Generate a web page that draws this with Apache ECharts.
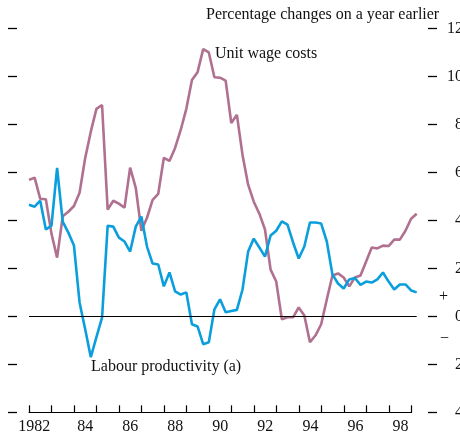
<!DOCTYPE html>
<html><head><meta charset="utf-8">
<script src="https://cdn.jsdelivr.net/npm/echarts@6/dist/echarts.min.js"></script>
<style>html,body{margin:0;padding:0;background:#fff}#c{width:460px;height:434px}</style>
</head><body><div id="c"></div>
<script>
// Quarterly observations, 1982 Q1 onwards
const quarters = [];
for (let y = 1982; y <= 1999; y++) for (let q = 1; q <= 4; q++) if (quarters.length < 70) quarters.push(y + ' Q' + q);

const years = ['1982','83','84','85','86','87','88','89','90','91','92','93','94','95','96','97','98'];

const unitWageCosts = [5.69,5.78,4.90,4.88,3.45,2.45,4.17,4.36,4.60,5.15,6.60,7.70,8.65,8.81,4.45,4.82,4.70,4.53,6.20,5.36,
  3.57,4.11,4.86,5.11,6.61,6.48,7.02,7.77,8.65,9.85,10.18,11.14,11.00,9.97,9.95,9.83,8.06,8.40,6.73,5.49,
  4.78,4.28,3.62,1.95,1.45,-0.12,-0.04,-0.04,0.37,0.04,-1.08,-0.79,-0.33,0.70,1.70,1.79,1.62,1.25,1.62,1.70,
  2.29,2.87,2.83,2.95,2.93,3.20,3.20,3.57,4.07,4.28];

const labourProductivity = [4.65,4.57,4.82,3.62,3.78,6.19,3.95,3.49,2.95,0.58,-0.54,-1.70,-0.87,-0.05,3.78,3.74,3.28,3.12,2.70,3.74,
  4.16,2.91,2.20,2.16,1.25,1.83,1.04,0.91,1.00,-0.33,-0.42,-1.16,-1.08,0.29,0.71,0.17,0.22,0.27,1.12,2.70,
  3.24,2.87,2.49,3.37,3.57,3.96,3.82,3.08,2.41,2.91,3.91,3.91,3.87,3.12,1.75,1.37,1.16,1.54,1.60,1.31,
  1.45,1.41,1.54,1.83,1.45,1.12,1.33,1.33,1.08,1.00];

const yMin = -4, yMax = 12, yStep = 2;

const FONT = '"Liberation Serif", "Times New Roman", serif';
const PINK = '#b0708f';
const BLUE = '#0a9fdc';

const chart = echarts.init(document.getElementById('c'), null, {renderer: 'canvas'});
chart.setOption({
  animation: false,
  backgroundColor: '#fff',
  grid: [
    {left: 29, right: 43.3, top: 28.5, bottom: 21.7, containLabel: false, outerBoundsMode: 'none'},
    {left: 29, right: 48.3, top: 28.5, bottom: 21.7, containLabel: false, outerBoundsMode: 'none'}
  ],
  xAxis: [
    {gridIndex: 0, type: 'category', data: quarters, boundaryGap: false, show: false},
    {gridIndex: 1, type: 'category', data: years, boundaryGap: true, position: 'bottom',
      axisLine: {show: true, onZero: false, lineStyle: {color: '#000', width: 1}},
      axisTick: {show: true, inside: true, length: 7, interval: 0, lineStyle: {color: '#000', width: 1.2}},
      axisLabel: {interval: 1, margin: 6, fontFamily: FONT, fontSize: 16, color: '#111',
        formatter: v => v === '1982' ? '1982   ' : v},
      splitLine: {show: false}}
  ],
  yAxis: [
    {gridIndex: 0, type: 'value', min: yMin, max: yMax, interval: yStep, position: 'left', offset: 12,
      axisLine: {show: false}, axisTick: {show: true, length: 9, lineStyle: {color: '#000', width: 1.3}},
      axisLabel: {show: false}, splitLine: {show: false}},
    {gridIndex: 0, type: 'value', min: yMin, max: yMax, interval: yStep, position: 'right', offset: 11.3,
      axisLine: {show: false}, axisTick: {show: true, length: 9, lineStyle: {color: '#000', width: 1.3}},
      axisLabel: {show: true, align: 'right', margin: 35, fontFamily: FONT, fontSize: 16, color: '#111',
        formatter: v => String(Math.abs(v)), hideOverlap: false},
      splitLine: {show: false}},
    {gridIndex: 1, type: 'value', min: yMin, max: yMax, show: false}
  ],
  series: [
    {name: 'Unit wage costs', type: 'line', xAxisIndex: 0, yAxisIndex: 0, data: unitWageCosts,
      showSymbol: false, lineStyle: {color: PINK, width: 2.6}, itemStyle: {color: PINK},
      markLine: {silent: true, symbol: 'none', label: {show: false},
        lineStyle: {color: '#000', width: 1.2, type: 'solid'}, data: [{yAxis: 0}]}},
    {name: 'Labour productivity (a)', type: 'line', xAxisIndex: 0, yAxisIndex: 0, data: labourProductivity,
      showSymbol: false, lineStyle: {color: BLUE, width: 2.6}, itemStyle: {color: BLUE}}
  ],
  graphic: [
    {type: 'text', x: 206, y: 15, style: {text: 'Percentage changes on a year earlier', font: '16px ' + FONT, fill: '#111', align: 'left', verticalAlign: 'middle'}},
    {type: 'text', x: 215, y: 54, style: {text: 'Unit wage costs', font: '16px ' + FONT, fill: '#111', align: 'left', verticalAlign: 'middle'}},
    {type: 'text', x: 91, y: 367, style: {text: 'Labour productivity (a)', font: '16px ' + FONT, fill: '#111', align: 'left', verticalAlign: 'middle'}},
    {type: 'text', x: 443.5, y: 297, style: {text: '+', font: '16px ' + FONT, fill: '#111', align: 'center', verticalAlign: 'middle'}},
    {type: 'text', x: 444.5, y: 339, style: {text: '\u2212', font: '16px ' + FONT, fill: '#111', align: 'center', verticalAlign: 'middle'}}
  ]
});
</script></body></html>
